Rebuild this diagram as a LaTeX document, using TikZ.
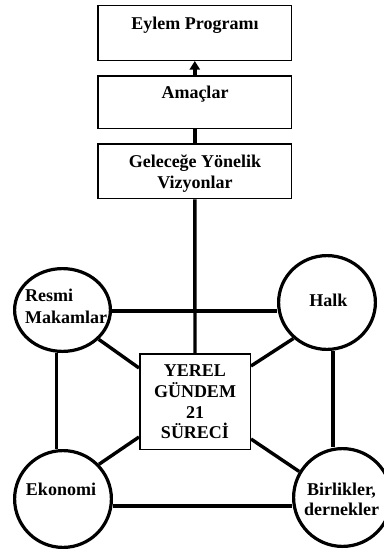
\documentclass[tikz,border=0pt]{standalone}
\usepackage{fontspec}
\setmainfont{Liberation Serif}
\usetikzlibrary{arrows.meta,shapes.geometric}
\begin{document}
\begin{tikzpicture}[x=1pt,y=-1pt,
  txt/.style={font=\bfseries\fontsize{18}{20.8}\selectfont, inner sep=0pt},
  topbox/.style={draw, line width=1.5pt, minimum width=193.5pt, inner sep=0pt},
  hubbox/.style={draw, line width=1.5pt, minimum width=110.5pt, minimum height=95.5pt, inner sep=0pt},
  actor/.style={draw, ellipse, line width=3.2pt, inner sep=0pt},
  link/.style={line width=3.4pt},
]
\useasboundingbox (0,0) rectangle (383,549);

% planning chain
\node[topbox, minimum height=54.8pt] (eylem) at (194.8,32.85) {};
\node[topbox, minimum height=52.5pt] (amac) at (194.8,102) {};
\node[topbox, minimum height=54.5pt] (vizyon) at (194.8,171.3) {};
\node[txt, anchor=base] (eylemT) at (195,29.5) {Eylem Programı};
\node[txt, anchor=base] (amacT) at (195,98) {Amaçlar};
\node[txt, align=center] (vizyonT) at (195,173.8) {Geleceğe Yönelik\\Vizyonlar};

% central process
\node[hubbox] (hub) at (195,401.5) {};
\node[txt, align=center] (hubT) at (195,401.9) {YEREL\\GÜNDEM\\21\\SÜRECİ};

% actors
\node[actor, minimum width=95.8pt, minimum height=82.8pt] (resmi) at (62.5,310) {};
\node[actor, minimum width=96.8pt, minimum height=93.8pt] (halk) at (327,302.5) {};
\node[actor, minimum width=96.8pt, minimum height=96.8pt] (eko) at (63,499) {};
\node[actor, minimum width=97.8pt, minimum height=97.8pt] (bir) at (342.5,497.5) {};
\node[txt, align=left, anchor=west, font=\bfseries\fontsize{18}{21.6}\selectfont] (resmiT) at (25,306.4) {Resmi\\Makamlar};
\node[txt, anchor=base] (halkT) at (328.3,306.7) {Halk};
\node[txt, anchor=base] (ekoT) at (61,495) {Ekonomi};
\node[txt, align=center, font=\bfseries\fontsize{18}{20}\selectfont] (birT) at (341.5,498.9) {Birlikler,\\dernekler};

% chain connectors
\draw[link] (hub.north) -- (vizyon.south);
\draw[link] (vizyon.north) -- (amac.south);
\draw[link, -{Triangle[width=10pt,length=8.5pt]}] (amac.north) -- (eylem.south);

% ring of actors
\draw[link] ([yshift=-1pt]resmi.east) -- ([yshift=-1pt]resmi.east -| halk.west);
\draw[link] ([xshift=-6pt]resmi.south) -- ([xshift=-6pt]resmi.south |- eko.north);
\draw[link] ([xshift=6pt]halk.south) -- ([xshift=6pt]halk.south |- bir.north);
\draw[link] ([yshift=-7pt]eko.east) -- ([yshift=-7pt]eko.east -| bir.west);

% spokes to the centre
\draw[link] ([yshift=-15pt]hub.north west) -- (resmi.-39.4);
\draw[link] ([yshift=-13pt]hub.north east) -- (halk.227);
\draw[link] ([yshift=13pt]hub.south west) -- (eko.44);
\draw[link] ([yshift=11pt]hub.south east) -- (bir.149);
\end{tikzpicture}
\end{document}
